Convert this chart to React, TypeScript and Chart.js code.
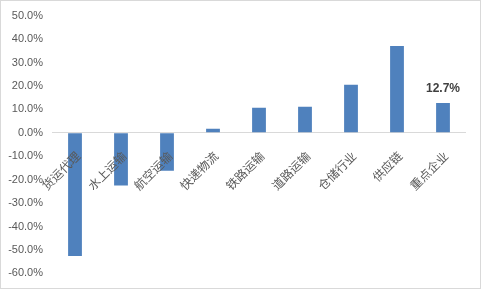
import React, { useEffect, useRef } from "react";
import { Chart, registerables } from "chart.js";

Chart.register(...registerables);

const categories = ["货运代理", "水上运输", "航空运输", "快递物流", "铁路运输", "道路运输", "仓储行业", "供应链", "重点企业"];
const values = [-52.6, -22.5, -16.2, 1.7, 10.7, 11.1, 20.5, 37.0, 12.7];
const labeledIndex = 8;

const borderPlugin = {
  id: "outerBorder",
  afterDraw(chart: any) {
    const ctx = chart.ctx;
    ctx.save();
    ctx.strokeStyle = "#d9d9d9";
    ctx.lineWidth = 1;
    ctx.strokeRect(0.5, 0.5, chart.width - 1, chart.height - 1);
    ctx.restore();
  },
};

const dataLabelPlugin = {
  id: "dataLabel",
  afterDatasetsDraw(chart: any) {
    const meta = chart.getDatasetMeta(0);
    const bar = meta.data[labeledIndex];
    if (!bar) return;
    const ctx = chart.ctx;
    ctx.save();
    ctx.font = "bold 12px 'Liberation Sans', Arial, sans-serif";
    ctx.fillStyle = "#404040";
    ctx.textAlign = "center";
    ctx.textBaseline = "bottom";
    ctx.fillText(values[labeledIndex].toFixed(1) + "%", bar.x, bar.y - 8);
    ctx.restore();
  },
};

export default function App() {
  const ref = useRef<HTMLCanvasElement>(null);
  useEffect(() => {
    document.body.style.margin = "0";
    const chart = new Chart(ref.current!, {
      type: "bar",
      data: {
        labels: categories,
        datasets: [
          {
            data: values,
            backgroundColor: "#4F81BD",
            categoryPercentage: 1,
            barPercentage: 0.3,
          },
        ],
      },
      options: {
        responsive: false,
        animation: false,
        layout: { padding: { top: 15, bottom: 15, right: 15, left: 0 } },
        plugins: { legend: { display: false }, tooltip: { enabled: false } },
        scales: {
          x: {
            position: { y: 0 } as any,
            grid: { display: false },
            border: { display: false },
            ticks: {
              z: 1,
              minRotation: 45,
              maxRotation: 45,
              autoSkip: false,
              padding: 8,
              labelOffset: 3,
              color: "#595959",
              font: { family: "'Noto Sans CJK SC', sans-serif", size: 12 },
            } as any,
          },
          y: {
            min: -60,
            max: 50,
            afterFit: (s: any) => {
              s.width = 52;
            },
            border: { display: false },
            grid: {
              drawTicks: false,
              color: (c: any) => (c.tick && c.tick.value === 0 ? "#d9d9d9" : "rgba(0,0,0,0)"),
            },
            ticks: {
              stepSize: 10,
              padding: 9,
              color: "#595959",
              font: { family: "'Liberation Sans', Arial, sans-serif", size: 11 },
              callback: (v: any) => Number(v).toFixed(1) + "%",
            },
          },
        },
      },
      plugins: [borderPlugin, dataLabelPlugin],
    });
    return () => chart.destroy();
  }, []);
  return (
    <div style={{ width: 481, height: 289 }}>
      <canvas ref={ref} width={481} height={289} />
    </div>
  );
}
